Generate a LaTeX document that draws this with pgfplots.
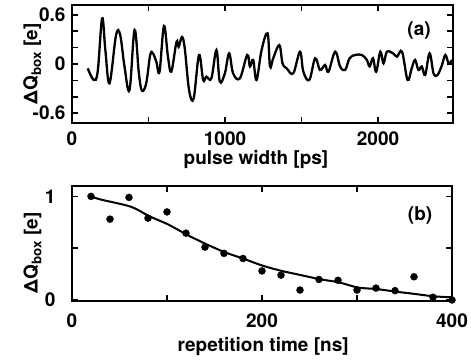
\documentclass[border=0pt]{standalone}
\usepackage{fontspec}
\setmainfont{TeX Gyre Heros}
\usepackage{pgfplots}
\pgfplotsset{compat=1.18}
\begin{document}
\fontsize{19}{22}\selectfont\bfseries
\begin{tikzpicture}
\pgfplotsset{
  common/.style={
    scale only axis,
    axis line style={line width=2pt},
    every tick/.style={line width=1.5pt, black},
    major tick length=6pt, minor tick length=6pt,
    tick align=inside,
    ticklabel style={font=\fontsize{19}{22}\selectfont\bfseries},
    /pgf/number format/assume math mode=true,
    label style={font=\fontsize{19}{22}\selectfont\bfseries, inner sep=0pt},
  }
}
\begin{axis}[common,
  at={(0,0)}, anchor=north west,
  width=381pt, height=118pt,
  xmin=0, xmax=2490, ymin=-0.72, ymax=0.72,
  xtick={0,1000,2000}, xticklabels={0,1000,2000},
  minor xtick={500,1500},
  ytick={-0.6,0,0.6}, yticklabels={-0.6,0,0.6},
  minor ytick={-0.4,-0.2,0.2,0.4},
  xticklabel style={yshift=-2pt},
  xlabel={pulse width [ps]},
  xlabel style={at={(axis description cs:0.483,-0.352)}, anchor=base},
  ylabel={ΔQ\textsubscript{box} [e]},
  ylabel style={at={(axis description cs:-0.0906,0.5)}, anchor=base},
]
\addplot[black, line width=2.3pt, smooth, tension=0.6] coordinates {
(103,-0.053) (142,-0.195) (168,-0.09) (197,0.557) (218,0.17) (245,-0.236)
(288,0.354) (315,0.354) (343,-0.03) (376,-0.317) (409,0.415) (437,-0.114)
(457,-0.325) (485,-0.236) (511,0.11) (529,0.13) (551,0.028) (572,-0.094)
(601,0.464) (627,0.09) (649,-0.094) (683,0.27) (697,0.21) (719,0.33)
(737,0.19) (765,-0.317) (795,-0.42) (830,0.11) (857,-0.195) (878,-0.155)
(911,-0.175) (944,0.17) (966,-0.215) (999,-0.114) (1027,0.13) (1053,-0.114)
(1097,-0.175) (1145,0.11) (1163,-0.03) (1184,0.05) (1206,-0.195) (1239,0.17)
(1278,0.374) (1294,-0.03) (1315,0.07) (1355,0.23) (1376,0.008) (1403,-0.053)
(1446,-0.114) (1490,0.15) (1512,-0.094) (1551,-0.195) (1589,0.07) (1621,-0.073)
(1654,-0.012) (1676,-0.094) (1720,0.15) (1752,-0.03) (1785,-0.073) (1814,0.07)
(1851,0.11) (1894,0.11) (1927,0.05) (1945,-0.03) (1967,0.07) (1988,-0.094)
(2015,0.15) (2036,0.008) (2058,0.15) (2098,0.13) (2124,0.09) (2157,0.15)
(2193,-0.195) (2220,-0.053) (2242,0.05) (2264,-0.073) (2286,-0.03) (2308,-0.134)
(2337,0.13) (2363,-0.114) (2389,-0.134) (2418,-0.012) (2440,0.11) (2462,0.008)
(2484,0.05)
};
\node[font=\fontsize{19}{22}\selectfont\bfseries] at (rel axis cs:0.911,0.784) {(a)};
\end{axis}

\begin{axis}[common,
  at={(0,-181pt)}, anchor=north west,
  width=380pt, height=115pt,
  xmin=0, xmax=400, ymin=-0.01, ymax=1.1,
  clip=false,
  xtick={0,200,400}, xticklabels={0,200,400},
  minor xtick={100,300},
  ytick={0,0.5,1}, yticklabels={0,,1},
  xticklabel style={yshift=-6pt},
  yticklabel style={xshift=-10pt},
  xlabel={repetition time [ns]},
  xlabel style={at={(axis description cs:0.503,-0.443)}, anchor=base},
  ylabel={ΔQ\textsubscript{box} [e]},
  ylabel style={at={(axis description cs:-0.0906,0.42)}, anchor=base},
]
\addplot[black, line width=2pt, smooth, tension=0.5] coordinates {
(20,1.0) (30,0.97) (62,0.90) (81,0.81) (101,0.73) (121,0.63) (141,0.54)
(161,0.46) (180,0.40) (201,0.33) (221,0.28) (241,0.24) (261,0.20) (281,0.17)
(301,0.12) (321,0.105) (341,0.08) (361,0.058) (381,0.035) (400,0.026)
};
\addplot[only marks, mark=*, mark size=3.5pt, black] coordinates {
(20,1.0) (40,0.78) (60,0.99) (80,0.79) (100,0.85) (120,0.645) (140,0.51)
(160,0.45) (180,0.40) (200,0.28) (220,0.24) (240,0.096) (260,0.198)
(280,0.19) (300,0.096) (320,0.115) (340,0.09) (360,0.224) (380,0.026) (400,0.0)
};
\node[font=\fontsize{19}{22}\selectfont\bfseries] at (rel axis cs:0.916,0.748) {(b)};
\end{axis}
\pgfresetboundingbox
\path[use as bounding box] (-72pt,5pt) rectangle (399pt,-357pt);
\end{tikzpicture}
\end{document}
